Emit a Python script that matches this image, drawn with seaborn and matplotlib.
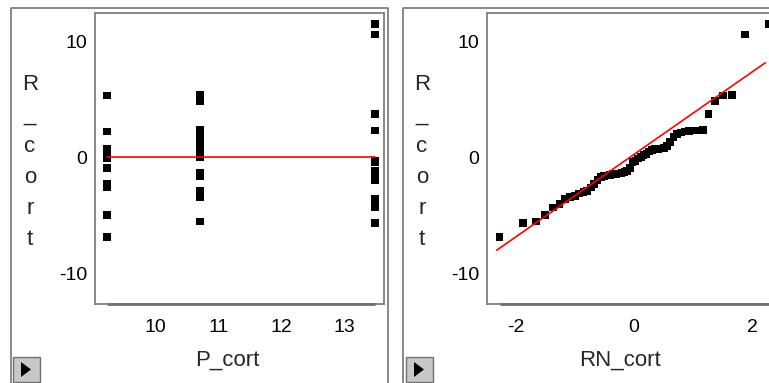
import numpy as np
import pandas as pd
import matplotlib
matplotlib.use("Agg")
import matplotlib.pyplot as plt
from matplotlib.patches import Rectangle, Polygon
from matplotlib.lines import Line2D
import seaborn as sns

# ---------------- data ----------------
p_levels = [9.23, 10.70, 13.48]          # predicted values (P_cort)
resid_a = [-6.87, -4.95, -2.6, -2.3, -0.9, -0.1, 0.2, 0.5, 0.74, 2.22, 5.3]
resid_b = [-5.5, -3.43, -3.3, -3.12, -3.0, -2.9, -1.6, -1.5, -1.42, -1.33,
           0.05, 0.3, 0.62, 0.7, 0.77, 0.82, 1.0, 1.3, 1.75, 2.0, 2.15,
           2.28, 2.32, 2.34, 4.83, 5.35]
resid_c = [-5.67, -4.3, -4.0, -3.6, -1.95, -1.68, -1.55, -1.45, -1.38, -1.28,
           -1.2, -0.4, -0.3, 2.3, 3.7, 10.55, 11.44]
# normal quantiles of the sorted residuals (RN_cort)
rn_cort = [-2.273, -1.881, -1.660, -1.500, -1.371, -1.261, -1.165, -1.078,
           -0.999, -0.925, -0.856, -0.791, -0.730, -0.671, -0.614, -0.559,
           -0.505, -0.454, -0.403, -0.353, -0.305, -0.257, -0.210, -0.163,
           -0.116, -0.069, -0.023, 0.023, 0.069, 0.116, 0.163, 0.210, 0.257,
           0.305, 0.353, 0.403, 0.454, 0.505, 0.559, 0.614, 0.671, 0.730,
           0.791, 0.856, 0.925, 0.999, 1.078, 1.165, 1.261, 1.371, 1.500,
           1.660, 1.881, 2.273]
qq_mean = 0.25
qq_slope = 3.55
qq_line_x = [-2.32, 2.22]
x_ticks_left = [10, 11, 12, 13]
x_ticks_right = [-2, 0, 2]
y_ticks = [-10, 0, 10]

left_df = pd.DataFrame({
    "P_cort": [p_levels[0]] * len(resid_a) + [p_levels[1]] * len(resid_b) + [p_levels[2]] * len(resid_c),
    "R_cort": resid_a + resid_b + resid_c,
})
right_df = pd.DataFrame({
    "RN_cort": rn_cort,
    "R_cort": np.sort(left_df["R_cort"].values),
})
line_df = pd.DataFrame({
    "RN_cort": qq_line_x,
    "R_cort": [qq_mean + qq_slope * v for v in qq_line_x],
})

# ---------------- style ----------------
sns.set_style("white")
plt.rcParams["font.family"] = ["Liberation Sans", "DejaVu Sans"]

W, H = 769, 383
fig = plt.figure(figsize=(W / 100, H / 100), dpi=100)
fig.patch.set_facecolor("white")

FRAME = "#808080"
TICK_FS = 14
LAB_FS = 16


def px_rect(x0, y0, x1, y1):
    return [x0 / W, 1 - y1 / H, (x1 - x0) / W, (y1 - y0) / H]


def fig_line(xs, ys, color=FRAME, lw=1.3):
    fig.add_artist(Line2D([x / W for x in xs], [1 - y / H for y in ys],
                          color=color, lw=lw, transform=fig.transFigure))


def style_axes(ax, xlim, ylim, xticks):
    ax.set_xlim(*xlim)
    ax.set_ylim(*ylim)
    ax.set_xticks(xticks)
    ax.set_yticks(y_ticks)
    ax.set_xticklabels([str(t) for t in xticks])
    ax.set_yticklabels([str(t) for t in y_ticks])
    for s in ax.spines.values():
        s.set_color(FRAME)
        s.set_linewidth(1.3)
    ax.tick_params(axis="both", direction="out", length=4, width=1,
                   color="#606060", labelsize=TICK_FS, labelcolor="black")
    ax.tick_params(axis="x", pad=7)
    ax.tick_params(axis="y", pad=1.5)
    ax.set_xlabel("")
    ax.set_ylabel("")
    ax.grid(False)


# outer frames
fig_line([11, 11, 388, 388], [383, 8, 8, 383])
fig_line([403, 403, 769], [383, 8, 8])

YLIM = (-12.61, 12.41)

# ---------------- left panel ----------------
axl = fig.add_axes(px_rect(95, 13, 384, 304))
sns.scatterplot(data=left_df, x="P_cort", y="R_cort", ax=axl, marker="s",
                s=30, color="black", edgecolor="none", linewidth=0, zorder=3)
axl.plot([min(p_levels), max(p_levels)], [0, 0], color="red", lw=1.2, zorder=4)
style_axes(axl, (9.037, 13.624), YLIM, x_ticks_left)
axl.plot([min(p_levels), max(p_levels)], [YLIM[0], YLIM[0]], color="#707070",
         lw=2.0, clip_on=False, zorder=5, solid_capstyle="butt")

# ---------------- right panel ----------------
axr = fig.add_axes(px_rect(486.7, 13, 775, 304))
sns.scatterplot(data=right_df, x="RN_cort", y="R_cort", ax=axr, marker="s",
                s=30, color="black", edgecolor="none", linewidth=0, zorder=3)
sns.lineplot(data=line_df, x="RN_cort", y="R_cort", ax=axr, color="red",
             lw=1.2, zorder=4)
style_axes(axr, (-2.49, 2.384), YLIM, x_ticks_right)
axr.plot([min(rn_cort), 2.384], [YLIM[0], YLIM[0]], color="#707070",
         lw=2.0, clip_on=False, zorder=5, solid_capstyle="butt")

# axis titles
for xc, label in [(30, "R_cort"), (422, "R_cort")]:
    fig.text(xc / W, 1 - 162 / H, "\n".join(label), ha="center", va="center",
             multialignment="center", fontsize=LAB_FS, linespacing=1.62)
fig.text(227 / W, 1 - 360 / H, "P_cort", ha="center", va="center", fontsize=LAB_FS)
fig.text(620 / W, 1 - 360 / H, "RN_cort", ha="center", va="center", fontsize=LAB_FS)

# small disclosure buttons
for bx in (13, 406):
    fig.add_artist(Rectangle((bx / W, 1 - 382 / H), 27 / W, 25 / H,
                             facecolor="#c8c8c8", edgecolor="#707070", lw=1,
                             transform=fig.transFigure))
    fig.add_artist(Polygon([((bx + 8) / W, 1 - 362 / H), ((bx + 8) / W, 1 - 377 / H),
                            ((bx + 18) / W, 1 - 369.5 / H)], closed=True,
                           facecolor="black", edgecolor="none",
                           transform=fig.transFigure))

fig.savefig("out.png", dpi=100)
